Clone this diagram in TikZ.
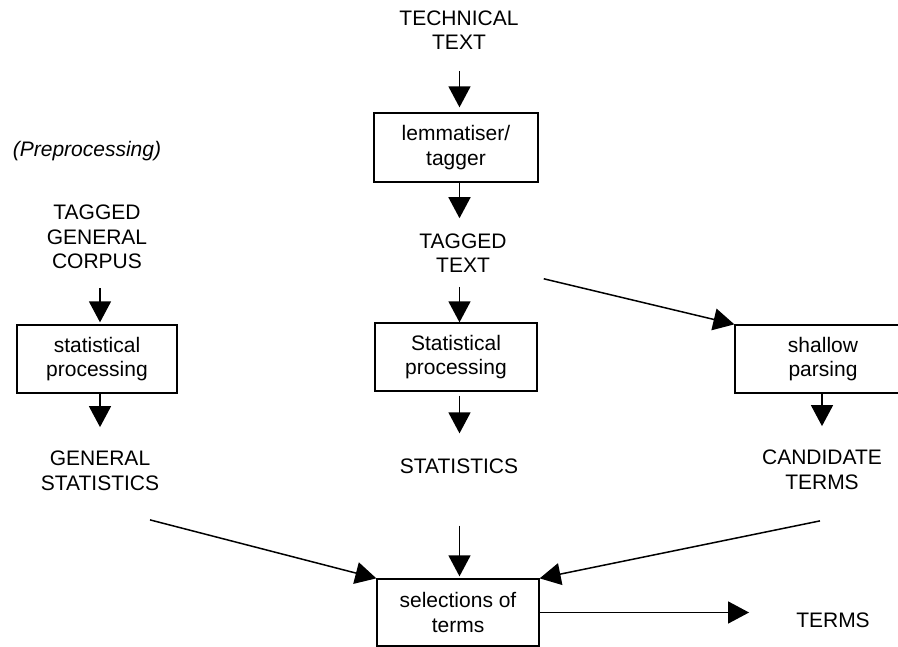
\documentclass[tikz,border=0pt]{standalone}
\usepackage{fontspec}
\setmainfont{Liberation Sans}
\usetikzlibrary{arrows.meta,calc}
\begin{document}
\begin{tikzpicture}[x=1pt,y=-1pt,
  lbl/.style={align=center, inner sep=0pt, font=\fontsize{21}{24.5}\selectfont},
  procbox/.style={draw, line width=1.3pt, align=center, inner sep=0pt, minimum height=68pt, font=\fontsize{21}{24.5}\selectfont},
  arr/.style={line width=1.5pt, -{Triangle[length=21pt,width=22pt]}}]
\useasboundingbox (0,0) rectangle (898,647);
\clip (0,0) rectangle (898,647);
% column axes
\coordinate (axM) at (459.5,0);
\coordinate (axL) at (100,0);
\coordinate (axR) at (822,0);
% middle column
\node[lbl] (tech) at (459,30) {TECHNICAL\\TEXT};
\node[procbox, minimum width=164pt, minimum height=69pt] (lemm) at (456,147.5) {lemmatiser/\\tagger};
\node[lbl] (tagged) at (463,253) {TAGGED\\TEXT};
\node[procbox, minimum width=162pt] (stat) at (456,357) {Statistical\\processing};
\node[lbl] (statistics) at (459,466) {STATISTICS};
\node[procbox, minimum width=162pt, minimum height=67pt] (sel) at (458,612.5) {selections of\\terms};
\node[lbl] (terms) at (833,620) {TERMS};
% left column
\node[lbl, font=\fontsize{21}{24.5}\selectfont\itshape] (prep) at (87,151) {(Preprocessing)};
\node[lbl] (tgc) at (97,237) {TAGGED\\GENERAL\\CORPUS};
\node[procbox, minimum width=160pt] (lbox) at (97,359) {statistical\\processing};
\node[lbl] (gs) at (100,471) {GENERAL\\STATISTICS};
% right column
\node[procbox, minimum width=176pt] (shallow) at (823,359) {shallow\\parsing};
\node[lbl] (cand) at (822,470) {CANDIDATE\\TERMS};
% connectors
\draw[arr, shorten <=21pt, shorten >=5pt] (tech.south -| axM) -- (lemm.north -| axM);
\draw[arr, shorten >=15pt] (lemm.south -| axM) -- (tagged.north -| axM);
\draw[arr, shorten <=14pt] (tagged.south -| axM) -- (stat.north -| axM);
\draw[arr, shorten <=4pt, shorten >=25pt] (stat.south -| axM) -- (statistics.north -| axM);
\draw[arr, shorten <=52pt, shorten >=2pt] (statistics.south -| axM) -- (sel.north -| axM);
\draw[arr, shorten >=47pt] (sel.east) -- (sel.east -| terms.west);
\draw[arr, shorten <=19pt, shorten >=2pt] (tgc.south -| axL) -- (lbox.north -| axL);
\draw[arr, shorten >=24pt] (lbox.south -| axL) -- (gs.north -| axL);
\draw[arr] ($(gs.south)+(50,29)$) -- (sel.north west);
\draw[arr] ($(tagged.south east)+(37,6)$) -- (shallow.north west);
\draw[arr, shorten >=24pt] (shallow.south -| axR) -- (cand.north -| axR);
\draw[arr] ($(cand.south)+(-2,31)$) -- (sel.north east);
\end{tikzpicture}
\end{document}
